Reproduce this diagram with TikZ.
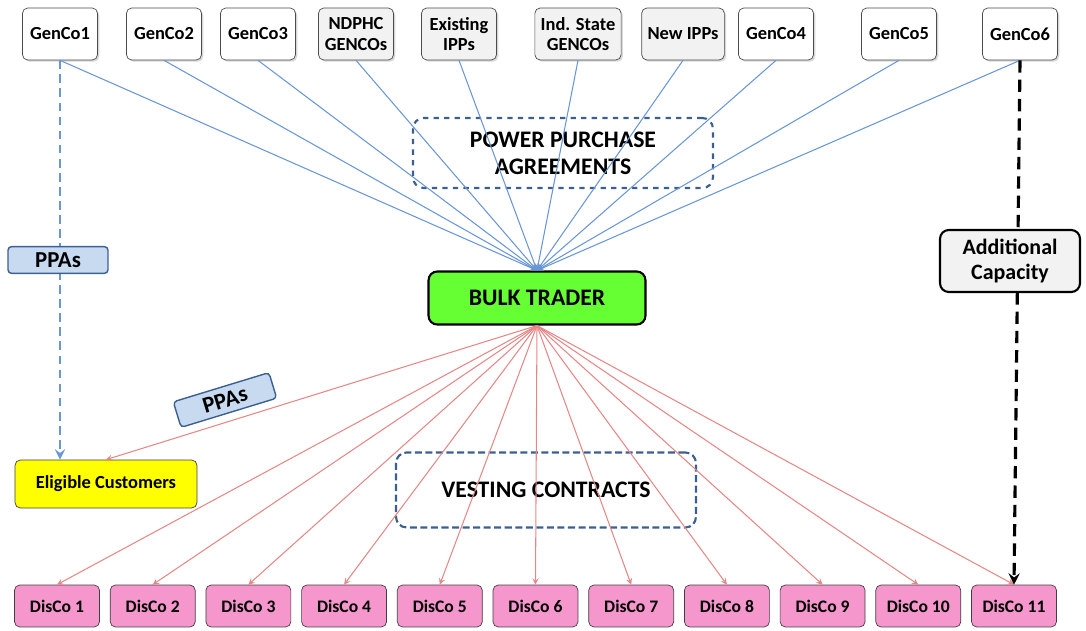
\documentclass[tikz,border=0pt]{standalone}
\usepackage{fontspec}
\setmainfont{Carlito}
\usepackage{tikz}
\usetikzlibrary{arrows,calc,shadows}
\definecolor{Trader}{RGB}{102,255,51}
\definecolor{Disco}{RGB}{245,150,205}
\definecolor{Elig}{RGB}{255,255,0}
\definecolor{PpaBlue}{RGB}{105,150,215}
\definecolor{VcRed}{RGB}{230,135,135}
\definecolor{Frame}{RGB}{60,95,145}
\definecolor{Tag}{RGB}{200,218,240}
\definecolor{Grey}{RGB}{242,242,242}

\tikzset{
    gen/.style={draw=gray!60!black, rounded corners=3pt, minimum width=1.5cm, minimum height=1.04cm, align=center, font=\bfseries\fontsize{10.5}{11.5}\selectfont, drop shadow={shadow xshift=1pt, shadow yshift=-1pt, fill=gray!60}},
    frame/.style={draw=Frame, dashed, very thick, rounded corners=6pt, minimum width=6cm, align=center, font=\bfseries\fontsize{13.5}{15.5}\selectfont},
    disco/.style={draw=gray!50!black, fill=Disco, rounded corners=3pt, minimum width=1.7cm, minimum height=0.84cm, font=\bfseries\fontsize{10}{11}\selectfont},
    tag/.style={draw=Frame, thick, fill=Tag, rounded corners=2pt, minimum width=2cm, minimum height=0.52cm, font=\bfseries\fontsize{13}{14}\selectfont},
    ppa/.style={PpaBlue, semithick, -stealth},
    vc/.style={VcRed, semithick, -stealth}
}

\begin{document}
\begin{tikzpicture}[x=0.02cm, y=-0.02cm]
    \useasboundingbox (0,0) rectangle (1086,631);
    % generators
    \foreach \x/\n/\t/\f in {60/g1/GenCo1/white, 164/g2/GenCo2/white, 258/g3/GenCo3/white, 356/g4/{NDPHC\\GENCOs}/Grey, 459/g5/{Existing\\IPPs}/Grey, 578/g6/{Ind. State\\GENCOs}/Grey, 683/g7/New IPPs/Grey, 776/g8/GenCo4/white, 899/g9/GenCo5/white, 1020/g10/GenCo6/white}
    {
    \node[gen, fill=\f] (\n) at (\x,34) {\t};
    }
    \node[frame, minimum height=1.4cm] (ppabox) at (563,153) {POWER PURCHASE\\AGREEMENTS};
    \node[frame, minimum height=1.5cm, dash pattern=on 4pt off 2pt] (vcbox) at (546,490) {VESTING CONTRACTS};
    \node[draw, very thick, fill=Trader, rounded corners=5pt, minimum width=4.34cm, minimum height=1.06cm, font=\bfseries\fontsize{13.5}{15}\selectfont] (bt) at (537,298) {BULK TRADER};
    \node[draw=gray!50!black, fill=Elig, rounded corners=3pt, minimum width=3.64cm, minimum height=0.96cm, font=\bfseries\fontsize{10.5}{12}\selectfont] (ec) at (106,484) {Eligible Customers};
    % distribution companies
    \foreach \i in {1,...,11}
    {
    \node[disco] (d\i) at ({57+95.7*(\i-1)},606) {DisCo \i};
    \draw[vc] (bt.south) to (d\i.north);
    }
    \draw[vc] (bt.south) to (ec.north);
    \foreach \n in {g1,g2,g3,g4,g5,g6,g7,g8,g9,g10}
    {
    \draw[ppa] (\n.south) to (bt.north);
    }
    \draw[PpaBlue, line width=1.6pt, dash pattern=on 5pt off 3pt, -stealth] (g1.south) to (g1.south |- ec.north);
    \node[tag] (tag1) at (58,260) {PPAs};
    \node[tag, rotate=17] (tag2) at (225,400) {PPAs};
    \draw[line width=1.8pt, dash pattern=on 7pt off 4pt, -stealth] (g10.south) to (d11.north);
    \node[draw, very thick, fill=Grey, rounded corners=5pt, minimum width=2.8cm, minimum height=1.24cm, align=center, font=\bfseries\fontsize{12.5}{14}\selectfont] (ac) at (1010,261) {Additional\\Capacity};
\end{tikzpicture}
\end{document}
